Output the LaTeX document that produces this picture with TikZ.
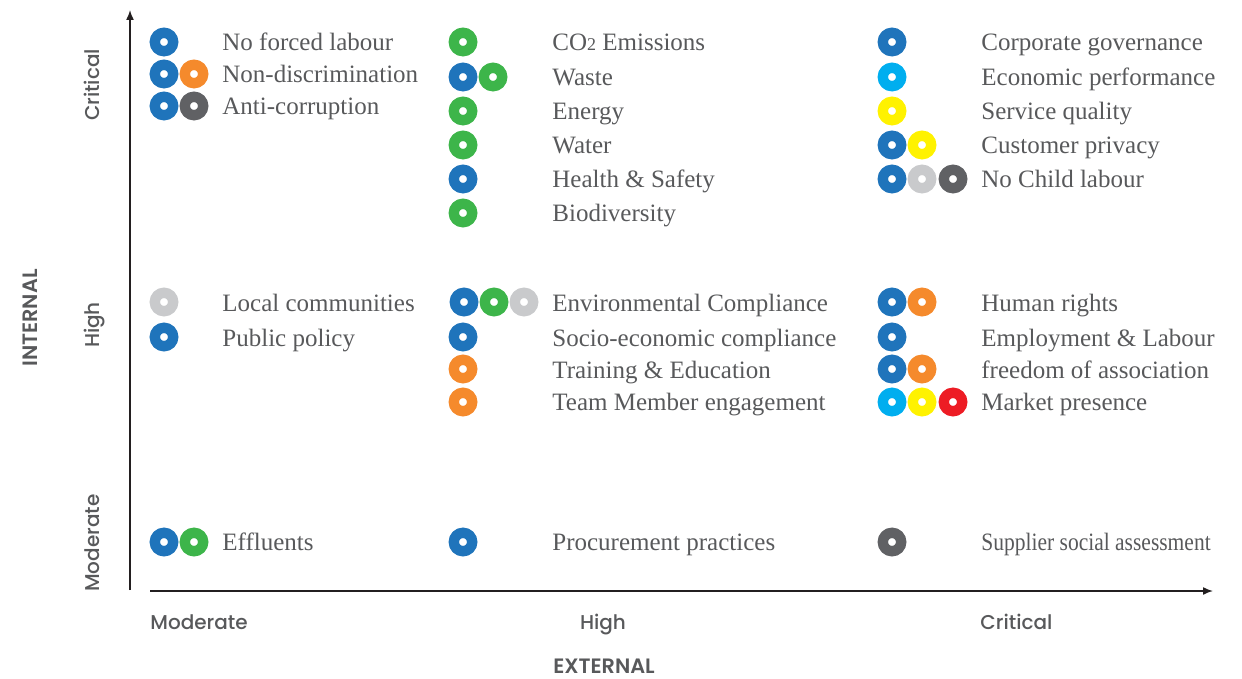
\documentclass[tikz,border=0pt]{standalone}
\usepackage{fontspec}
\setmainfont{Liberation Serif}
\newfontfamily\axisfont{Poppins Medium}
\newfontfamily\axisnamefont{Poppins SemiBold}
\usepackage{xcolor}
\usetikzlibrary{arrows.meta}
\definecolor{ringblue}{HTML}{1F74BB}
\definecolor{ringorange}{HTML}{F58A2C}
\definecolor{ringgreen}{HTML}{3DB54A}
\definecolor{ringlight}{HTML}{C9CACC}
\definecolor{ringdark}{HTML}{606164}
\definecolor{ringcyan}{HTML}{00AEEF}
\definecolor{ringyellow}{HTML}{FFF200}
\definecolor{ringred}{HTML}{ED1C24}
\definecolor{inktext}{HTML}{58595B}
\definecolor{axisink}{HTML}{231F20}

\tikzset{
  ring/.style={circle, draw=#1, line width=5.2pt, minimum size=9.2pt, inner sep=0pt},
  issue/.style={anchor=base west, inner sep=0pt, text=inktext, font=\fontsize{12.5}{14}\selectfont},
  axislabel/.style={anchor=base, inner sep=0pt, text=inktext, font=\axisfont\fontsize{10}{12}\selectfont},
  axisname/.style={anchor=base, inner sep=0pt, text=inktext, font=\axisnamefont\fontsize{10.4}{12}\selectfont},
  axisline/.style={draw=axisink, line width=0.75pt, -{Latex[length=5pt,width=4pt]}},
}

\begin{document}
\begin{tikzpicture}[x=0.5pt, y=-0.5pt]
\useasboundingbox (0,0) rectangle (1242,679);
% axes
\coordinate (yfoot) at (130,590);
\coordinate (ytop) at (130,10);
\coordinate (xfoot) at (150,591);
\coordinate (xend) at (1213,591);
\draw [axisline] (yfoot) -- (ytop);
\draw [axisline] (xfoot) -- (xend);
\node [axislabel, rotate=90] (ycrit) at (99.5,85) {Critical};
\node [axislabel, rotate=90] (yhigh) at (99.5,325) {High};
\node [axislabel, rotate=90] (ymod) at (99.5,543) {Moderate};
\node [axisname, rotate=90] (yname) at (38,318) {INTERNAL};
\node [axislabel, anchor=base west] (xmod) at (150,629) {Moderate};
\node [axislabel] (xhigh) at (603,629) {High};
\node [axislabel, anchor=base west] (xcrit) at (980,629) {Critical};
\node [axisname] (xname) at (604,673) {EXTERNAL};
% moderate external, critical internal
\node [ring=ringblue] (nfl1) at (164,42) {};
\node [issue] (nfl) at (222,50.5) {No forced labour};
\node [ring=ringblue] (nd1) at (164,74) {};
\node [ring=ringorange] (nd2) at (194,74) {};
\node [issue] (nd) at (222,82.5) {Non-discrimination};
\node [ring=ringblue] (ac1) at (164,106) {};
\node [ring=ringdark] (ac2) at (194,106) {};
\node [issue] (ac) at (222,114.5) {Anti-corruption};
% high external, critical internal
\node [ring=ringgreen] (co1) at (463,42) {};
\node [issue] (co) at (552,50.5) {CO{\fontsize{9}{10}\selectfont 2} Emissions};
\node [ring=ringblue] (ws1) at (463,77) {};
\node [ring=ringgreen] (ws2) at (493,77) {};
\node [issue] (ws) at (552,85.5) {Waste};
\node [ring=ringgreen] (en1) at (463,111) {};
\node [issue] (en) at (552,119.5) {Energy};
\node [ring=ringgreen] (wt1) at (463,145) {};
\node [issue] (wt) at (552,153.5) {Water};
\node [ring=ringblue] (hs1) at (463,179) {};
\node [issue] (hs) at (552,187.5) {Health \& Safety};
\node [ring=ringgreen] (bd1) at (463,213) {};
\node [issue] (bd) at (552,221.5) {Biodiversity};
% critical external, critical internal
\node [ring=ringblue] (cg1) at (892,42) {};
\node [issue] (cg) at (981,50.5) {Corporate governance};
\node [ring=ringcyan] (ep1) at (892,77) {};
\node [issue] (ep) at (981,85.5) {Economic performance};
\node [ring=ringyellow] (sq1) at (892,111) {};
\node [issue] (sq) at (981,119.5) {Service quality};
\node [ring=ringblue] (cp1) at (892,145) {};
\node [ring=ringyellow] (cp2) at (922,145) {};
\node [issue] (cp) at (981,153.5) {Customer privacy};
\node [ring=ringblue] (cl1) at (892,179) {};
\node [ring=ringlight] (cl2) at (922,179) {};
\node [ring=ringdark] (cl3) at (953,179) {};
\node [issue] (cl) at (981,187.5) {No Child labour};
% high internal
\node [ring=ringlight] (lc1) at (164,302) {};
\node [issue] (lc) at (222,312) {Local communities};
\node [ring=ringblue] (pp1) at (164,337) {};
\node [issue] (pp) at (222,346) {Public policy};
\node [ring=ringblue] (ec1) at (464,302) {};
\node [ring=ringgreen] (ec2) at (494,302) {};
\node [ring=ringlight] (ec3) at (524,302) {};
\node [issue] (ec) at (552,312) {Environmental Compliance};
\node [ring=ringblue] (se1) at (463,337) {};
\node [issue] (se) at (552,346) {Socio-economic compliance};
\node [ring=ringorange] (te1) at (463,369) {};
\node [issue] (te) at (552,378) {Training \& Education};
\node [ring=ringorange] (tm1) at (463,402) {};
\node [issue] (tm) at (552,410.5) {Team Member engagement};
\node [ring=ringblue] (hr1) at (892,302) {};
\node [ring=ringorange] (hr2) at (922,302) {};
\node [issue] (hr) at (981,312) {Human rights};
\node [ring=ringblue] (el1) at (892,337) {};
\node [issue] (el) at (981,346) {Employment \& Labour};
\node [ring=ringblue] (fa1) at (892,369) {};
\node [ring=ringorange] (fa2) at (922,369) {};
\node [issue] (fa) at (981,378) {freedom of association};
\node [ring=ringcyan] (mp1) at (892,402) {};
\node [ring=ringyellow] (mp2) at (922,402) {};
\node [ring=ringred] (mp3) at (953,402) {};
\node [issue] (mp) at (981,410.5) {Market presence};
% moderate internal
\node [ring=ringblue] (ef1) at (164,542) {};
\node [ring=ringgreen] (ef2) at (194,542) {};
\node [issue] (ef) at (222,550.5) {Effluents};
\node [ring=ringblue] (pr1) at (463,542) {};
\node [issue] (pr) at (552,550.5) {Procurement practices};
\node [ring=ringdark] (ss1) at (892,542) {};
\node [issue] (ss) at (981,550.5) {\scalebox{0.86}[1]{Supplier social assessment}};
\end{tikzpicture}
\end{document}
